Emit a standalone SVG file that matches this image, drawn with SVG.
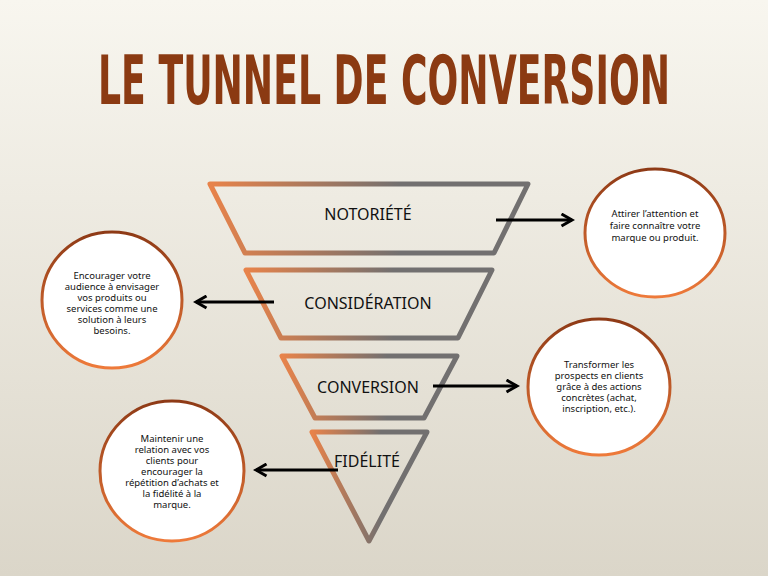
<svg xmlns="http://www.w3.org/2000/svg" width="768" height="576" viewBox="0 0 768 576">
<defs>
<linearGradient id="bg" x1="0" y1="0" x2="0" y2="1"><stop offset="0" stop-color="#f8f6ef"/><stop offset="1" stop-color="#dbd6c9"/></linearGradient>
<linearGradient id="tg" x1="0" y1="0" x2="1" y2="0"><stop offset="0" stop-color="#e8834a"/><stop offset="0.6" stop-color="#727070"/><stop offset="1" stop-color="#727070"/></linearGradient>
<linearGradient id="cg" x1="0" y1="0" x2="0" y2="1"><stop offset="0" stop-color="#8e3a16"/><stop offset="1" stop-color="#ee7a3a"/></linearGradient>
<marker id="ah" viewBox="0 0 10 10" refX="8" refY="5" markerWidth="5" markerHeight="5" orient="auto-start-reverse"><path d="M1,1 L8,5 L1,9" fill="none" stroke="#000" stroke-width="2"/></marker>
</defs>
<style>
.tr{fill:none;stroke:url(#tg);stroke-width:5;stroke-linejoin:round}
.ci{fill:#fff;stroke:url(#cg);stroke-width:3}
.lb{font-family:"Noto Sans","Liberation Sans",sans-serif;font-size:16px;fill:#111;text-anchor:middle}
.tx{font-family:"Noto Sans","Liberation Sans",sans-serif;font-size:9.5px;fill:#111;text-anchor:middle}
.ar{stroke:#000;stroke-width:3;fill:none;marker-end:url(#ah)}
</style>
<rect width="768" height="576" fill="url(#bg)"/>
<text x="384" y="104" font-family="DejaVu Sans Condensed,Liberation Sans,sans-serif" font-weight="bold" font-size="68" fill="#8b3a12" text-anchor="middle" textLength="572" lengthAdjust="spacingAndGlyphs">LE TUNNEL DE CONVERSION</text>
<g id="stage1"><polygon class="tr" points="210,184 528,184 494,253 245,253"/><text class="lb" x="368" y="220">NOTORIÉTÉ</text></g>
<g id="stage2"><polygon class="tr" points="246,270 492,270 458,338 281,338"/><text class="lb" x="368" y="309">CONSIDÉRATION</text></g>
<g id="stage3"><polygon class="tr" points="282,356 457,356 424,418 315,418"/><text class="lb" x="368" y="393">CONVERSION</text></g>
<g id="stage4"><polygon class="tr" points="312,432 427,432 369,541"/><text class="lb" x="367" y="467">FIDÉLITÉ</text></g>
<g id="note1"><ellipse class="ci" cx="655" cy="233" rx="70" ry="64"/><text class="tx" x="655" y="217"><tspan x="655">Attirer l’attention et</tspan><tspan x="655" dy="12">faire connaître votre</tspan><tspan x="655" dy="12">marque ou produit.</tspan></text></g>
<g id="note2"><ellipse class="ci" cx="112" cy="300" rx="70" ry="68"/><text class="tx" x="112" y="279"><tspan x="112">Encourager votre</tspan><tspan x="112" dy="11">audience à envisager</tspan><tspan x="112" dy="11">vos produits ou</tspan><tspan x="112" dy="11">services comme une</tspan><tspan x="112" dy="11">solution à leurs</tspan><tspan x="112" dy="11">besoins.</tspan></text></g>
<g id="note3"><ellipse class="ci" cx="599" cy="387" rx="71" ry="68"/><text class="tx" x="599" y="368"><tspan x="599">Transformer les</tspan><tspan x="599" dy="11">prospects en clients</tspan><tspan x="599" dy="11">grâce à des actions</tspan><tspan x="599" dy="11">concrètes (achat,</tspan><tspan x="599" dy="11">inscription, etc.).</tspan></text></g>
<g id="note4"><ellipse class="ci" cx="172" cy="471" rx="72" ry="70"/><text class="tx" x="172" y="442"><tspan x="172">Maintenir une</tspan><tspan x="172" dy="11">relation avec vos</tspan><tspan x="172" dy="11">clients pour</tspan><tspan x="172" dy="11">encourager la</tspan><tspan x="172" dy="11">répétition d’achats et</tspan><tspan x="172" dy="11">la fidélité à la</tspan><tspan x="172" dy="11">marque.</tspan></text></g>
<g id="connectors">
<line class="ar" x1="496" y1="220" x2="572" y2="220"/>
<line class="ar" x1="274" y1="302" x2="196" y2="302"/>
<line class="ar" x1="433" y1="386" x2="517" y2="386"/>
<line class="ar" x1="338" y1="470" x2="256" y2="470"/>
</g>
</svg>
